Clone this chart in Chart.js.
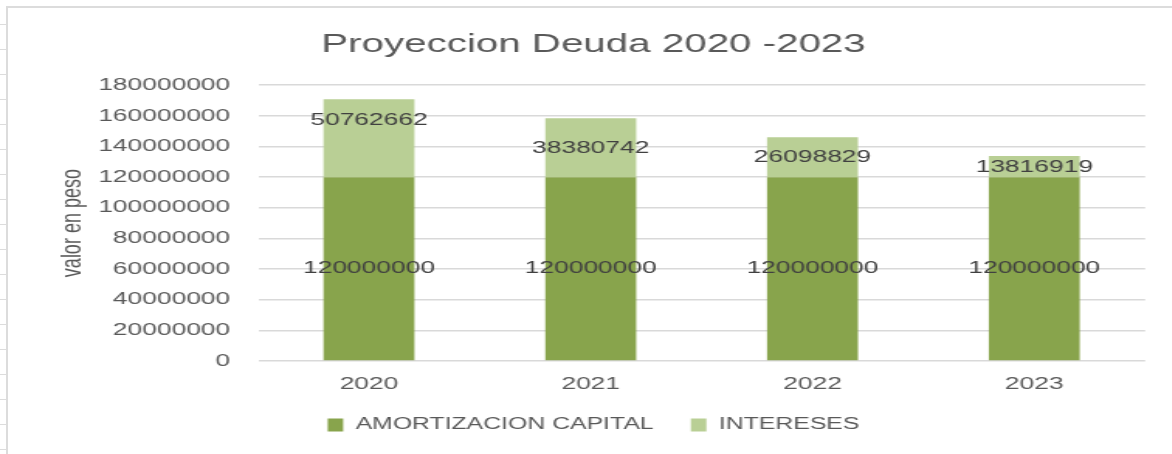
<!DOCTYPE html>
<html>
<head>
<meta charset="utf-8">
<script src="https://cdn.jsdelivr.net/npm/chart.js@4.4.1/dist/chart.umd.min.js"></script>
<style>
  html, body { margin: 0; padding: 0; background: #fff; }
  #frame {
    position: relative;
    width: 1172px;
    height: 454px;
    overflow: hidden;
    background: #fff;
  }
  /* sheet edge behind the chart */
  #frame .edge-top {
    position: absolute; left: 7px; top: 6px; right: 0; height: 2px; background: #dcdcdc;
  }
  #frame .edge-left {
    position: absolute; left: 6px; top: 6px; bottom: 0; width: 2px; background: #dcdcdc;
  }
  #frame .rows {
    position: absolute; left: 0; top: 0; width: 6px; bottom: 0;
    background: repeating-linear-gradient(to bottom, transparent 0, transparent 24px, #dcdcdc 24px, #dcdcdc 25px, transparent 25px, transparent 21.8px);
  }
  /* the reference is stretched sideways, so draw narrow and scale */
  #stretch {
    position: absolute;
    left: 0; top: 0;
    width: 756.1px;
    height: 454px;
    transform: scaleX(1.55);
    transform-origin: 0 0;
  }
</style>
</head>
<body>
<div id="frame">
  <div class="rows"></div>
  <div class="edge-top"></div>
  <div class="edge-left"></div>
  <div id="stretch"><canvas id="deudaChart"></canvas></div>
</div>
<script>
    // Chart data
    const categories = ['2020', '2021', '2022', '2023'];
    const amortizacionCapital = [120000000, 120000000, 120000000, 120000000];
    const intereses = [50762662, 38380742, 26098829, 13816919];
    const yMax = 180000000;
    const yStep = 20000000;

    // Pixel nudges for the INTERESES labels (below the top of each bar)
    const interesesLabelNudge = [21, 30, 20, 11];

    const TEXT_GRAY = '#595959';
    const LABEL_GRAY = '#404040';
    const GRID_GRAY = '#d9d9d9';
    const DARK_GREEN = '#88a44c';
    const LIGHT_GREEN = '#b9cf95';

    Chart.defaults.font.family = '"Liberation Sans", Arial, sans-serif';
    Chart.defaults.color = TEXT_GRAY;

    // Draws the value inside each bar segment
    const barValueLabels = {
        id: 'barValueLabels',
        afterDatasetsDraw(chart) {
            const ctx = chart.ctx;
            ctx.save();
            ctx.font = '17px "Liberation Sans", Arial, sans-serif';
            ctx.fillStyle = LABEL_GRAY;
            ctx.textAlign = 'center';
            ctx.textBaseline = 'middle';
            chart.data.datasets.forEach((ds, di) => {
                const meta = chart.getDatasetMeta(di);
                meta.data.forEach((bar, i) => {
                    const y = di === 0
                        ? (bar.y + bar.base) / 2
                        : bar.y + interesesLabelNudge[i];
                    ctx.fillText(String(ds.data[i]), bar.x, y);
                });
            });
            ctx.restore();
        }
    };

    new Chart(document.getElementById('deudaChart'), {
        type: 'bar',
        data: {
            labels: categories,
            datasets: [{
                label: 'AMORTIZACION CAPITAL',
                data: amortizacionCapital,
                backgroundColor: DARK_GREEN,
                borderWidth: 0,
                barPercentage: 0.41,
                categoryPercentage: 1
            }, {
                label: 'INTERESES',
                data: intereses,
                backgroundColor: LIGHT_GREEN,
                borderWidth: 0,
                barPercentage: 0.41,
                categoryPercentage: 1
            }]
        },
        options: {
            responsive: true,
            maintainAspectRatio: false,
            animation: false,
            layout: {
                padding: { left: 27, right: 17.3, top: 0, bottom: 11 }
            },
            scales: {
                x: {
                    stacked: true,
                    grid: { display: false, drawTicks: false },
                    border: { display: false },
                    ticks: {
                        color: TEXT_GRAY,
                        font: { size: 17 },
                        padding: 13
                    },
                    afterFit: function(scale) {
                        scale.height = 32;
                    }
                },
                y: {
                    stacked: true,
                    min: 0,
                    max: yMax,
                    grid: {
                        color: GRID_GRAY,
                        lineWidth: 1.5,
                        drawTicks: false
                    },
                    border: { display: false },
                    ticks: {
                        stepSize: yStep,
                        color: TEXT_GRAY,
                        font: { size: 17 },
                        padding: 18,
                        callback: function(value) {
                            return String(value);
                        }
                    },
                    title: {
                        display: true,
                        text: 'valor en peso',
                        color: TEXT_GRAY,
                        font: { size: 18 },
                        padding: { top: 9, bottom: 0 }
                    },
                    afterFit: function(scale) {
                        scale.width = 139.5;
                    }
                }
            },
            plugins: {
                title: {
                    display: true,
                    text: 'Proyeccion Deuda 2020 -2023',
                    color: TEXT_GRAY,
                    font: { size: 26, weight: 'normal' },
                    padding: { top: 29, bottom: 25 }
                },
                legend: {
                    position: 'bottom',
                    labels: {
                        color: TEXT_GRAY,
                        font: { size: 16 },
                        boxWidth: 10,
                        boxHeight: 13,
                        padding: 24
                    }
                },
                tooltip: { enabled: false }
            }
        },
        plugins: [barValueLabels]
    });
</script>
</body>
</html>
